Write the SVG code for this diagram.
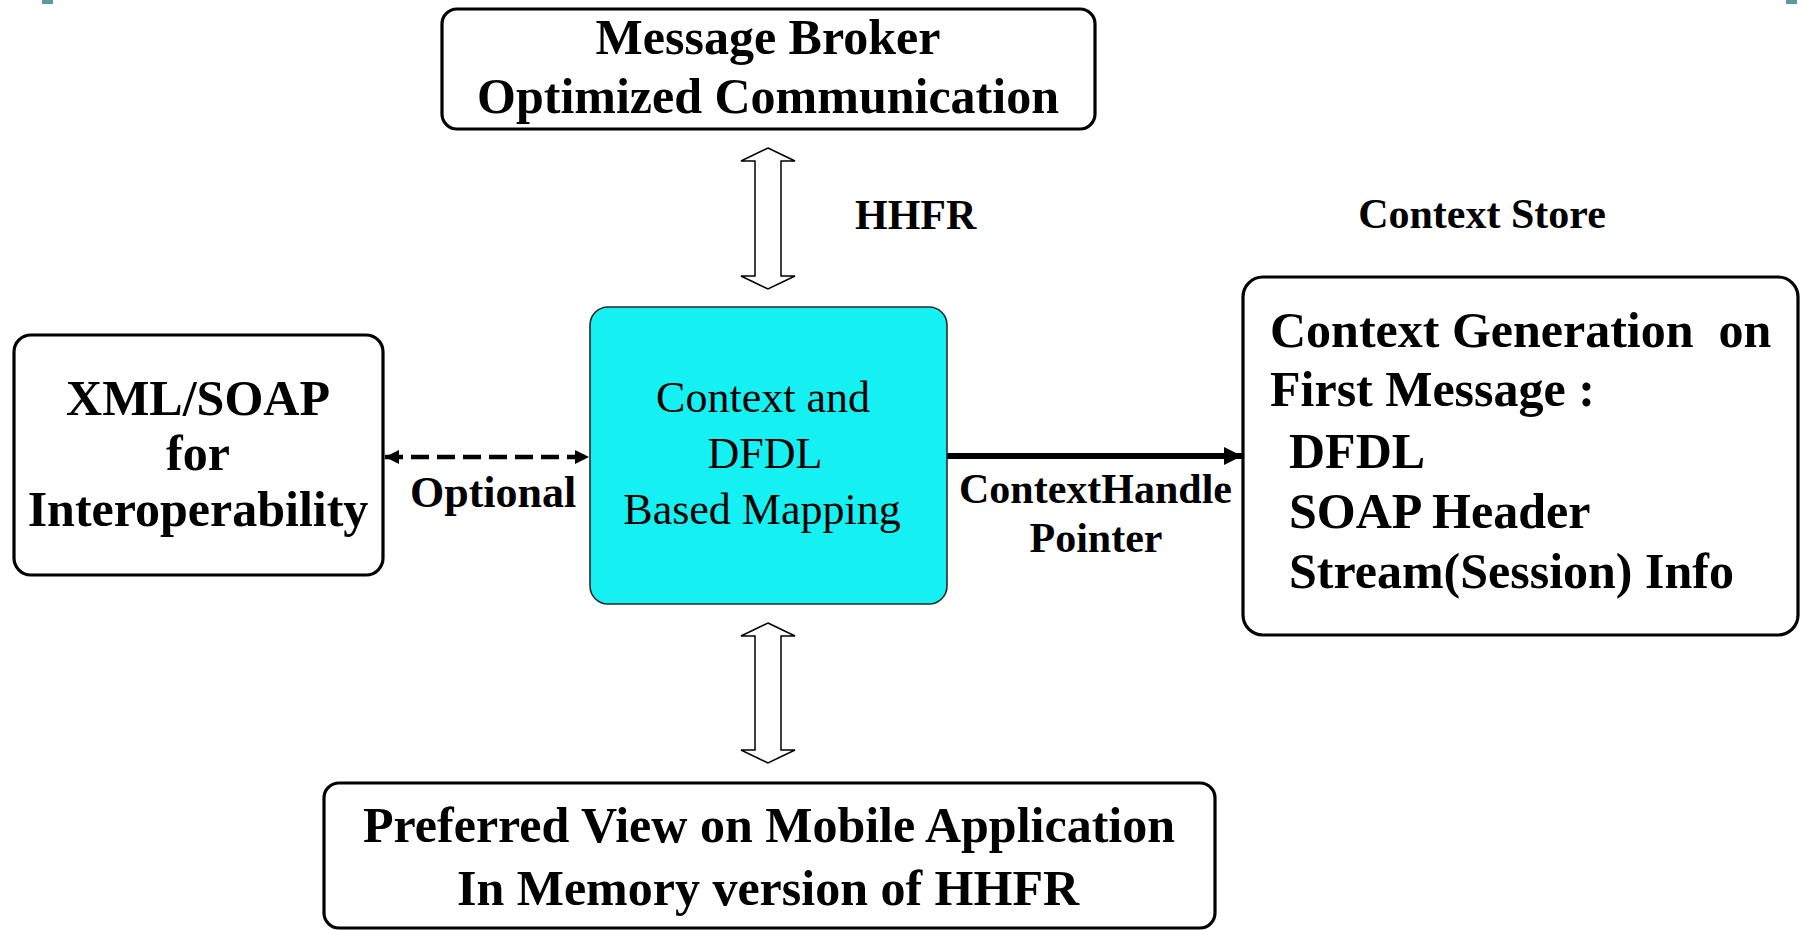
<svg xmlns="http://www.w3.org/2000/svg" width="1806" height="930" viewBox="0 0 1806 930">
  <defs>
    <style>
      .box { fill: #ffffff; stroke: #000000; stroke-width: 3.2; }
      .core { fill: #15F0F2; stroke: #2a2a2a; stroke-width: 1.6; }
      .bold { font-family: "Liberation Serif", "Times New Roman", serif; font-weight: bold; fill: #000000; }
      .plain { font-family: "Liberation Serif", "Times New Roman", serif; font-weight: normal; fill: #000000; }
      .big { font-size: 50px; }
      .mid { font-size: 44px; }
      .small { font-size: 42px; }
      .hollow { fill: #ffffff; stroke: #000000; stroke-width: 1.5; stroke-linejoin: miter; }
      .dash { fill: none; stroke: #000000; stroke-width: 4.5; stroke-dasharray: 18 8; }
      .solid { fill: none; stroke: #000000; stroke-width: 6; }
      .corner { fill: #5E9A9A; }
    </style>
    <marker id="headSmall" viewBox="0 0 14 14" refX="14" refY="7" markerWidth="14" markerHeight="14" markerUnits="userSpaceOnUse" orient="auto-start-reverse">
      <path d="M0,0 L14,7 L0,14 z" fill="#000000"/>
    </marker>
    <marker id="headBig" viewBox="0 0 18 18" refX="18" refY="9" markerWidth="18" markerHeight="18" markerUnits="userSpaceOnUse" orient="auto">
      <path d="M0,0 L18,9 L0,18 z" fill="#000000"/>
    </marker>
  </defs>

  <rect width="1806" height="930" fill="#ffffff"/>

  <!-- small accent marks along the top edge -->
  <rect class="corner" x="42" y="0" width="11" height="4"/>
  <rect class="corner" x="1786" y="0" width="11" height="4"/>

  <!-- connectors -->
  <g id="connectors">
    <!-- HHFR link: hollow double arrow between broker and mapping -->
    <path class="hollow" d="M768,148 L795,161 L781,161 L781,276 L795,276 L768,289 L741,276 L755,276 L755,161 L741,161 Z"/>
    <!-- hollow double arrow between mapping and mobile view -->
    <path class="hollow" d="M768,623 L795,636 L781,636 L781,750 L795,750 L768,763 L741,750 L755,750 L755,636 L741,636 Z"/>
    <!-- optional dashed link -->
    <line class="dash" x1="385" y1="457" x2="589" y2="457" marker-start="url(#headSmall)" marker-end="url(#headSmall)"/>
    <!-- context handle pointer -->
    <line class="solid" x1="947" y1="456" x2="1242" y2="456" marker-end="url(#headBig)"/>
    <text class="bold small" x="855" y="229">HHFR</text>
    <text class="bold mid" x="410" y="507">Optional</text>
    <text class="bold small" x="959" y="503">ContextHandle</text>
    <text class="bold small" x="1096" y="552" text-anchor="middle">Pointer</text>
  </g>

  <g id="message-broker">
    <rect class="box" x="442" y="9" width="653" height="120" rx="15" ry="15"/>
    <text class="bold big" x="768" y="54" text-anchor="middle">Message Broker</text>
    <text class="bold big" x="768" y="113" text-anchor="middle">Optimized Communication</text>
  </g>

  <g id="xml-soap">
    <rect class="box" x="14" y="335" width="369" height="240" rx="17" ry="17"/>
    <text class="bold big" x="198" y="415" text-anchor="middle">XML/SOAP</text>
    <text class="bold big" x="198" y="470" text-anchor="middle">for</text>
    <text class="bold big" x="198" y="526" text-anchor="middle">Interoperability</text>
  </g>

  <g id="mapping">
    <rect class="core" x="590" y="307" width="357" height="297" rx="18" ry="18"/>
    <text class="plain mid" x="763" y="412" text-anchor="middle">Context and</text>
    <text class="plain mid" x="765" y="468" text-anchor="middle">DFDL</text>
    <text class="plain mid" x="762" y="524" text-anchor="middle">Based Mapping</text>
  </g>

  <g id="context-store">
    <text class="bold small" x="1482" y="228" text-anchor="middle">Context Store</text>
    <rect class="box" x="1243" y="277" width="555" height="358" rx="20" ry="20"/>
    <text class="bold big" x="1270" y="347" xml:space="preserve">Context Generation  on</text>
    <text class="bold big" x="1270" y="406">First Message :</text>
    <text class="bold big" x="1289" y="468">DFDL</text>
    <text class="bold big" x="1289" y="528">SOAP Header</text>
    <text class="bold big" x="1289" y="588">Stream(Session) Info</text>
  </g>

  <g id="mobile-view">
    <rect class="box" x="324" y="783" width="891" height="145" rx="15" ry="15"/>
    <text class="bold big" x="769" y="842" text-anchor="middle">Preferred View on Mobile Application</text>
    <text class="bold big" x="768" y="905" text-anchor="middle">In Memory version of HHFR</text>
  </g>
</svg>
